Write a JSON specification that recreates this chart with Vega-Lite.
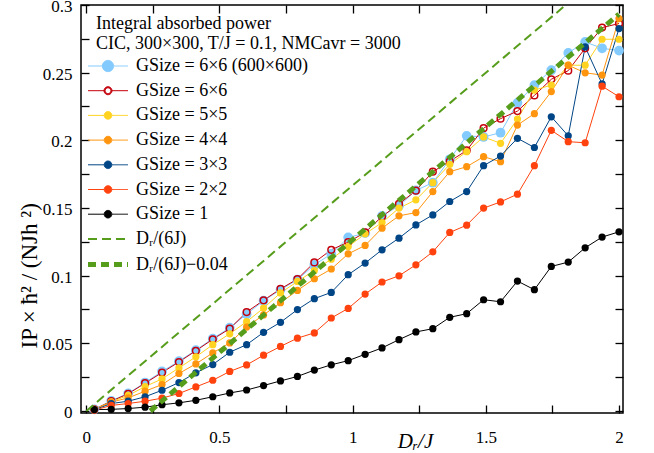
{
"$schema": "https://vega.github.io/schema/vega-lite/v6.json",
"width": 542, "height": 408,
"autosize": {"type": "none"},
"padding": {"left": 81, "top": 5, "right": 31, "bottom": 40},
"config": {
 "font": "Liberation Serif",
 "view": {"stroke": "black", "strokeWidth": 1.5},
 "axis": {"grid": false, "domain": false, "tickColor": "black", "tickSize": -8, "tickWidth": 1.3,
  "labelFont": "Liberation Serif", "labelFontSize": 17, "labelColor": "black",
  "titleFont": "Liberation Serif", "titleFontSize": 20, "titleFontWeight": "normal", "titleColor": "black"}
},
"datasets": {
"g": [{"s":"G1","x":0,"y":0},{"s":"G1","x":1.8,"y":0.3},{"s":"G2","x":0.24,"y":0},{"s":"G2","x":2.0,"y":0.2933}],
"pts": [
{"s":"L","x":0.03,"y":0.0012},{"s":"L","x":0.0935,"y":0.0075},{"s":"L","x":0.1571,"y":0.013},{"s":"L","x":0.2206,"y":0.021},{"s":"L","x":0.2842,"y":0.0292},{"s":"L","x":0.3477,"y":0.0368},{"s":"L","x":0.4113,"y":0.045},{"s":"L","x":0.4748,"y":0.0535},{"s":"L","x":0.5384,"y":0.0615},{"s":"L","x":0.6019,"y":0.0715},{"s":"L","x":0.6655,"y":0.0815},{"s":"L","x":0.729,"y":0.0895},{"s":"L","x":0.7926,"y":0.097},{"s":"L","x":0.8561,"y":0.108},{"s":"L","x":0.9197,"y":0.116},{"s":"L","x":0.9832,"y":0.1282},{"s":"L","x":1.0468,"y":0.1314},{"s":"L","x":1.1103,"y":0.1442},{"s":"L","x":1.1739,"y":0.1515},{"s":"L","x":1.2374,"y":0.163},{"s":"L","x":1.301,"y":0.1687},{"s":"L","x":1.3645,"y":0.186},{"s":"L","x":1.4281,"y":0.2033},{"s":"L","x":1.4916,"y":0.2025},{"s":"L","x":1.5552,"y":0.2056},{"s":"L","x":1.6187,"y":0.2277},{"s":"L","x":1.6823,"y":0.2408},{"s":"L","x":1.7458,"y":0.2518},{"s":"L","x":1.8094,"y":0.2646},{"s":"L","x":1.8729,"y":0.2727},{"s":"L","x":1.9365,"y":0.268},{"s":"L","x":2.0,"y":0.2663},
{"s":"O","x":0.03,"y":0.0012},{"s":"O","x":0.0935,"y":0.0072},{"s":"O","x":0.1571,"y":0.0127},{"s":"O","x":0.2206,"y":0.0205},{"s":"O","x":0.2842,"y":0.0284},{"s":"O","x":0.3477,"y":0.0362},{"s":"O","x":0.4113,"y":0.0445},{"s":"O","x":0.4748,"y":0.053},{"s":"O","x":0.5384,"y":0.0608},{"s":"O","x":0.6019,"y":0.0731},{"s":"O","x":0.6655,"y":0.0818},{"s":"O","x":0.729,"y":0.0902},{"s":"O","x":0.7926,"y":0.0975},{"s":"O","x":0.8561,"y":0.1098},{"s":"O","x":0.9197,"y":0.1191},{"s":"O","x":0.9832,"y":0.1248},{"s":"O","x":1.0468,"y":0.1319},{"s":"O","x":1.1103,"y":0.1437},{"s":"O","x":1.1739,"y":0.153},{"s":"O","x":1.2374,"y":0.1628},{"s":"O","x":1.301,"y":0.1768},{"s":"O","x":1.3645,"y":0.1845},{"s":"O","x":1.4281,"y":0.1925},{"s":"O","x":1.4916,"y":0.209},{"s":"O","x":1.5552,"y":0.216},{"s":"O","x":1.6187,"y":0.2216},{"s":"O","x":1.6823,"y":0.2332},{"s":"O","x":1.7458,"y":0.2451},{"s":"O","x":1.8094,"y":0.2515},{"s":"O","x":1.8729,"y":0.268},{"s":"O","x":1.9365,"y":0.2833},{"s":"O","x":2.0,"y":0.2863},
{"s":"Y","x":0.03,"y":0.0012},{"s":"Y","x":0.0935,"y":0.0068},{"s":"Y","x":0.1571,"y":0.0115},{"s":"Y","x":0.2206,"y":0.018},{"s":"Y","x":0.2842,"y":0.0237},{"s":"Y","x":0.3477,"y":0.0318},{"s":"Y","x":0.4113,"y":0.04},{"s":"Y","x":0.4748,"y":0.049},{"s":"Y","x":0.5384,"y":0.057},{"s":"Y","x":0.6019,"y":0.066},{"s":"Y","x":0.6655,"y":0.076},{"s":"Y","x":0.729,"y":0.0872},{"s":"Y","x":0.7926,"y":0.0957},{"s":"Y","x":0.8561,"y":0.1038},{"s":"Y","x":0.9197,"y":0.1122},{"s":"Y","x":0.9832,"y":0.1215},{"s":"Y","x":1.0468,"y":0.1309},{"s":"Y","x":1.1103,"y":0.1392},{"s":"Y","x":1.1739,"y":0.1499},{"s":"Y","x":1.2374,"y":0.156},{"s":"Y","x":1.301,"y":0.1687},{"s":"Y","x":1.3645,"y":0.1823},{"s":"Y","x":1.4281,"y":0.1916},{"s":"Y","x":1.4916,"y":0.2025},{"s":"Y","x":1.5552,"y":0.1978},{"s":"Y","x":1.6187,"y":0.2157},{"s":"Y","x":1.6823,"y":0.2371},{"s":"Y","x":1.7458,"y":0.2408},{"s":"Y","x":1.8094,"y":0.2555},{"s":"Y","x":1.8729,"y":0.2555},{"s":"Y","x":1.9365,"y":0.2747},{"s":"Y","x":2.0,"y":0.2747},
{"s":"A","x":0.03,"y":0.001},{"s":"A","x":0.0935,"y":0.0065},{"s":"A","x":0.1571,"y":0.0097},{"s":"A","x":0.2206,"y":0.0146},{"s":"A","x":0.2842,"y":0.0195},{"s":"A","x":0.3477,"y":0.0277},{"s":"A","x":0.4113,"y":0.0348},{"s":"A","x":0.4748,"y":0.0429},{"s":"A","x":0.5384,"y":0.0503},{"s":"A","x":0.6019,"y":0.062},{"s":"A","x":0.6655,"y":0.071},{"s":"A","x":0.729,"y":0.08},{"s":"A","x":0.7926,"y":0.0891},{"s":"A","x":0.8561,"y":0.0977},{"s":"A","x":0.9197,"y":0.1049},{"s":"A","x":0.9832,"y":0.1161},{"s":"A","x":1.0468,"y":0.1223},{"s":"A","x":1.1103,"y":0.1351},{"s":"A","x":1.1739,"y":0.1442},{"s":"A","x":1.2374,"y":0.1466},{"s":"A","x":1.301,"y":0.1621},{"s":"A","x":1.3645,"y":0.1768},{"s":"A","x":1.4281,"y":0.1805},{"s":"A","x":1.4916,"y":0.1879},{"s":"A","x":1.5552,"y":0.1842},{"s":"A","x":1.6187,"y":0.2113},{"s":"A","x":1.6823,"y":0.2197},{"s":"A","x":1.7458,"y":0.236},{"s":"A","x":1.8094,"y":0.2555},{"s":"A","x":1.8729,"y":0.2499},{"s":"A","x":1.9365,"y":0.2482},{"s":"A","x":2.0,"y":0.29},
{"s":"B","x":0.03,"y":0.0008},{"s":"B","x":0.0935,"y":0.0055},{"s":"B","x":0.1571,"y":0.0072},{"s":"B","x":0.2206,"y":0.0105},{"s":"B","x":0.2842,"y":0.0153},{"s":"B","x":0.3477,"y":0.021},{"s":"B","x":0.4113,"y":0.0282},{"s":"B","x":0.4748,"y":0.0343},{"s":"B","x":0.5384,"y":0.0434},{"s":"B","x":0.6019,"y":0.049},{"s":"B","x":0.6655,"y":0.0581},{"s":"B","x":0.729,"y":0.0655},{"s":"B","x":0.7926,"y":0.0749},{"s":"B","x":0.8561,"y":0.083},{"s":"B","x":0.9197,"y":0.0876},{"s":"B","x":0.9832,"y":0.1007},{"s":"B","x":1.0468,"y":0.1093},{"s":"B","x":1.1103,"y":0.1191},{"s":"B","x":1.1739,"y":0.1277},{"s":"B","x":1.2374,"y":0.1375},{"s":"B","x":1.301,"y":0.1449},{"s":"B","x":1.3645,"y":0.1548},{"s":"B","x":1.4281,"y":0.1621},{"s":"B","x":1.4916,"y":0.1813},{"s":"B","x":1.5552,"y":0.1884},{"s":"B","x":1.6187,"y":0.2015},{"s":"B","x":1.6823,"y":0.1947},{"s":"B","x":1.7458,"y":0.2174},{"s":"B","x":1.8094,"y":0.2033},{"s":"B","x":1.8729,"y":0.269},{"s":"B","x":1.9365,"y":0.2417},{"s":"B","x":2.0,"y":0.2826},
{"s":"R","x":0.03,"y":0.0006},{"s":"R","x":0.0935,"y":0.0041},{"s":"R","x":0.1571,"y":0.0055},{"s":"R","x":0.2206,"y":0.0072},{"s":"R","x":0.2842,"y":0.0095},{"s":"R","x":0.3477,"y":0.0129},{"s":"R","x":0.4113,"y":0.0178},{"s":"R","x":0.4748,"y":0.0227},{"s":"R","x":0.5384,"y":0.0292},{"s":"R","x":0.6019,"y":0.034},{"s":"R","x":0.6655,"y":0.0412},{"s":"R","x":0.729,"y":0.0477},{"s":"R","x":0.7926,"y":0.0538},{"s":"R","x":0.8561,"y":0.0577},{"s":"R","x":0.9197,"y":0.0687},{"s":"R","x":0.9832,"y":0.0758},{"s":"R","x":1.0468,"y":0.0864},{"s":"R","x":1.1103,"y":0.0953},{"s":"R","x":1.1739,"y":0.0999},{"s":"R","x":1.2374,"y":0.108},{"s":"R","x":1.301,"y":0.1176},{"s":"R","x":1.3645,"y":0.1319},{"s":"R","x":1.4281,"y":0.1373},{"s":"R","x":1.4916,"y":0.1499},{"s":"R","x":1.5552,"y":0.1545},{"s":"R","x":1.6187,"y":0.1602},{"s":"R","x":1.6823,"y":0.1813},{"s":"R","x":1.7458,"y":0.2074},{"s":"R","x":1.8094,"y":0.199},{"s":"R","x":1.8729,"y":0.1982},{"s":"R","x":1.9365,"y":0.24},{"s":"R","x":2.0,"y":0.2322},
{"s":"K","x":0.03,"y":0.001},{"s":"K","x":0.0935,"y":0.0012},{"s":"K","x":0.1571,"y":0.0018},{"s":"K","x":0.2206,"y":0.0028},{"s":"K","x":0.2842,"y":0.0046},{"s":"K","x":0.3477,"y":0.006},{"s":"K","x":0.4113,"y":0.0079},{"s":"K","x":0.4748,"y":0.0105},{"s":"K","x":0.5384,"y":0.0133},{"s":"K","x":0.6019,"y":0.0155},{"s":"K","x":0.6655,"y":0.0188},{"s":"K","x":0.729,"y":0.0222},{"s":"K","x":0.7926,"y":0.0255},{"s":"K","x":0.8561,"y":0.0302},{"s":"K","x":0.9197,"y":0.0341},{"s":"K","x":0.9832,"y":0.0372},{"s":"K","x":1.0468,"y":0.0419},{"s":"K","x":1.1103,"y":0.0466},{"s":"K","x":1.1739,"y":0.0527},{"s":"K","x":1.2374,"y":0.0584},{"s":"K","x":1.301,"y":0.0608},{"s":"K","x":1.3645,"y":0.0692},{"s":"K","x":1.4281,"y":0.0719},{"s":"K","x":1.4916,"y":0.0822},{"s":"K","x":1.5552,"y":0.0807},{"s":"K","x":1.6187,"y":0.096},{"s":"K","x":1.6823,"y":0.0896},{"s":"K","x":1.7458,"y":0.1068},{"s":"K","x":1.8094,"y":0.11},{"s":"K","x":1.8729,"y":0.1206},{"s":"K","x":1.9365,"y":0.1285},{"s":"K","x":2.0,"y":0.1324}
]},
"encoding": {
 "x": {"field": "x", "type": "quantitative", "scale": {"domain": [-0.02, 2.015], "nice": false, "zero": false}, "axis": null},
 "y": {"field": "y", "type": "quantitative", "scale": {"domain": [-0.0015, 0.3], "nice": false, "zero": false}, "axis": null},
 "color": {"field": "s", "type": "nominal",
  "scale": {"domain": ["L","O","Y","A","B","R","K","G1","G2"], "range": ["#83caff","#c5000b","#ffd320","#ff950e","#004586","#ff420e","#000000","#579d1c","#579d1c"]},
  "legend": {
   "orient": "none", "legendX": 15, "legendY": 10, "padding": 0,
   "title": ["Integral absorbed power", "CIC, 300×300, T/J = 0.1, NMCavr = 3000"],
   "titleFont": "Liberation Serif", "titleFontSize": 18, "titleFontWeight": "normal", "titleColor": "black", "titleLineHeight": 20, "titlePadding": 4, "titleLimit": 0,
   "labelFont": "Liberation Serif", "labelFontSize": 18, "labelColor": "black", "labelLimit": 0,
   "labelExpr": "datum.value === 'L' ? 'GSize = 6×6 (600×600)' : datum.value === 'O' ? 'GSize = 6×6' : datum.value === 'Y' ? 'GSize = 5×5' : datum.value === 'A' ? 'GSize = 4×4' : datum.value === 'B' ? 'GSize = 3×3' : datum.value === 'R' ? 'GSize = 2×2' : datum.value === 'K' ? 'GSize = 1' : datum.value === 'G1' ? 'Dᵣ/(6J)' : 'Dᵣ/(6J)−0.04'",
   "symbolSize": 64, "symbolOffset": 3, "labelOffset": 19, "rowPadding": 6.7,
   "encode": {"symbols": {"update": {
     "shape": {"signal": "datum.value === 'G1' || datum.value === 'G2' ? 'M-5,0H5' : (datum.value === 'L' ? 'M-5,0H-1.4M1.4,0H5M-1.4,0A1.4,1.4,0,1,1,1.4,0A1.4,1.4,0,1,1,-1.4,0Z' : (datum.value === 'O' ? 'M-5,0H-1M1,0H5M-1,0A1,1,0,1,1,1,0A1,1,0,1,1,-1,0ZM-0.72,0A0.72,0.72,0,1,0,0.72,0A0.72,0.72,0,1,0,-0.72,0Z' : 'M-5,0H-0.95M0.95,0H5M-0.95,0A0.95,0.95,0,1,1,0.95,0A0.95,0.95,0,1,1,-0.95,0Z'))"},
     "fill": {"signal": "datum.value === 'G1' || datum.value === 'G2' ? 'transparent' : scale('color', datum.value)"},
     "stroke": {"signal": "scale('color', datum.value)"},
     "strokeWidth": {"signal": "datum.value === 'G2' ? 5 : (datum.value === 'G1' ? 2 : 1)"},
     "strokeDash": {"signal": "datum.value === 'G1' ? [9,5] : (datum.value === 'G2' ? [8,5] : [1,0])"},
     "opacity": {"value": 1}
   }}}
  }}
},
"layer": [
 {"data": {"name": "pts"}, "mark": {"type": "line", "strokeWidth": 1, "clip": true},
  "encoding": {
   "x": {"field": "x", "type": "quantitative", "scale": {"domain": [-0.02, 2.015], "nice": false, "zero": false},
    "axis": {"orient": "bottom", "values": [0,0.25,0.5,0.75,1,1.25,1.5,1.75,2], "labelExpr": "datum.value % 0.5 === 0 ? '' + datum.value : ''", "labelPadding": 24, "labelFlush": false,
     "title": "Dᵣ/J", "titleFontStyle": "italic", "titleFontSize": 21, "titleX": 334, "titleY": 34, "titleBaseline": "alphabetic", "titleAlign": "center"}},
   "y": {"field": "y", "type": "quantitative", "scale": {"domain": [-0.0015, 0.3], "nice": false, "zero": false},
    "axis": {"orient": "left", "values": [0,0.025,0.05,0.075,0.1,0.125,0.15,0.175,0.2,0.225,0.25,0.275,0.3], "labelExpr": "round(datum.value*1000) % 50 === 0 ? '' + datum.value : ''", "labelPadding": 17, "labelOffset": 1.5, "labelFlush": false,
     "title": "IP × ħ² / (NJh ²)", "titleFontSize": 23, "titleX": -52, "titleY": 343, "titleAngle": -90, "titleBaseline": "middle", "titleAlign": "left"}}
  }},
 {"data": {"name": "pts"}, "transform": [{"filter": "datum.s === 'L'"}], "mark": {"type": "point", "filled": true, "size": 95, "opacity": 1}},
 {"data": {"name": "pts"}, "transform": [{"filter": "datum.s === 'O'"}], "mark": {"type": "point", "filled": false, "size": 45, "strokeWidth": 1.5, "opacity": 1}},
 {"data": {"name": "pts"}, "transform": [{"filter": "indexof(['Y','A','B','R','K'], datum.s) >= 0"}], "mark": {"type": "point", "filled": true, "size": 52, "opacity": 1}},
 {"data": {"name": "g"}, "transform": [{"filter": "datum.s === 'G1'"}], "mark": {"type": "line", "strokeWidth": 2, "strokeDash": [9,5], "clip": true},
  "encoding": {
   "x": {"field": "x", "type": "quantitative", "scale": {"domain": [-0.02, 2.015], "nice": false, "zero": false},
    "axis": {"orient": "top", "values": [0,0.25,0.5,0.75,1,1.25,1.5,1.75,2], "labels": false, "title": null}},
   "y": {"field": "y", "type": "quantitative", "scale": {"domain": [-0.0015, 0.3], "nice": false, "zero": false},
    "axis": {"orient": "right", "values": [0,0.025,0.05,0.075,0.1,0.125,0.15,0.175,0.2,0.225,0.25,0.275,0.3], "labels": false, "title": null}}
  }},
 {"data": {"name": "g"}, "transform": [{"filter": "datum.s === 'G2'"}], "mark": {"type": "line", "strokeWidth": 5, "strokeDash": [8,5], "clip": true}}
],
"resolve": {"axis": {"x": "independent", "y": "independent"}}
}
